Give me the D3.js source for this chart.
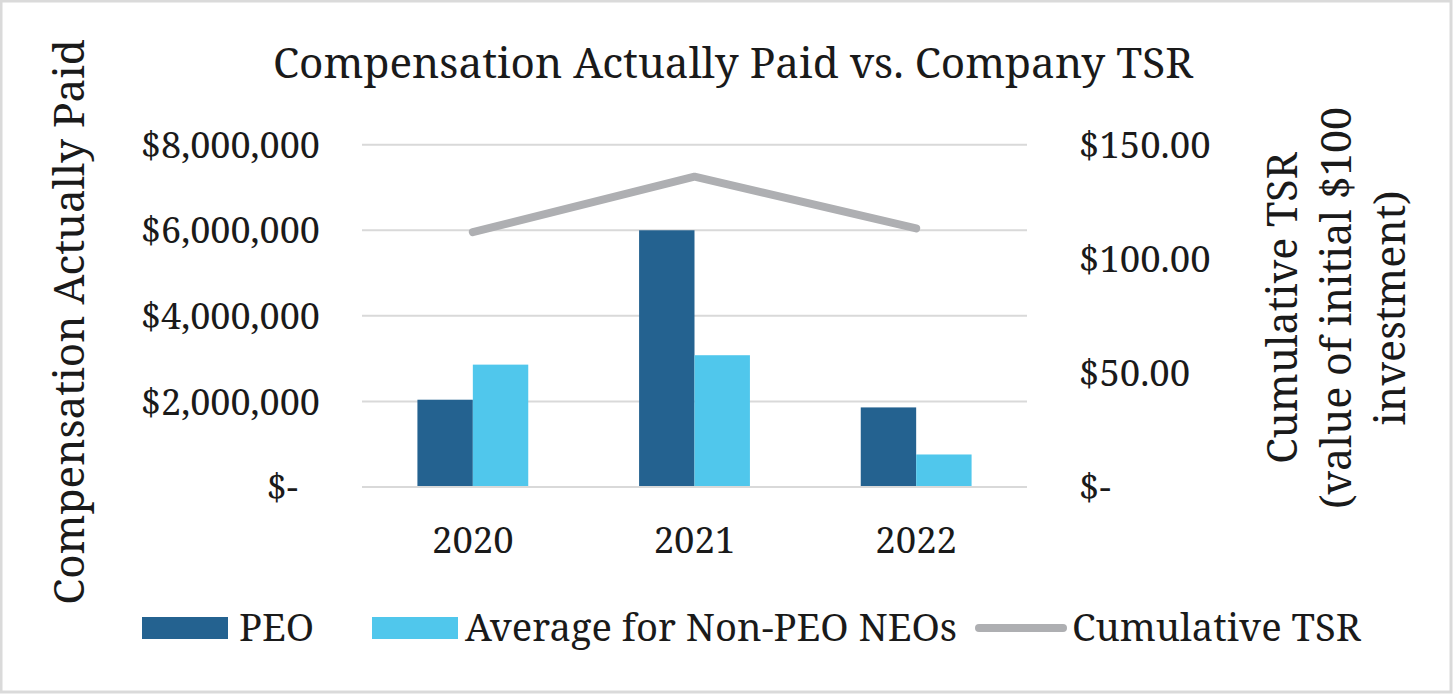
<!DOCTYPE html>
<html>
<head>
<meta charset="utf-8">
<script src="https://cdn.jsdelivr.net/npm/d3@7"></script>
<style>
  body { margin: 0; background: #fff; }
  svg { display: block; }
  text { font-family: "Noto Serif", "Liberation Serif", serif; fill: #1a1a1a; }
</style>
</head>
<body>
<div id="chart"></div>
<script>
// chart data
var years = ["2020", "2021", "2022"];
var peo = [2040000, 6000000, 1860000];
var nonPeo = [2860000, 3080000, 760000];
var tsr = [111.7, 136.0, 113.3];
var leftTicks = [0, 2000000, 4000000, 6000000, 8000000];
var rightTicks = [0, 50, 100, 150];
var seriesNames = ["PEO", "Average for Non-PEO NEOs", "Cumulative TSR"];

var width = 1453, height = 694;
var colPeo = "#246290", colNon = "#50C7EC", colTsr = "#AEAFB2", colGrid = "#d9d9d9";
var font = "'Noto Serif', 'Liberation Serif', serif";

var svg = d3.select("#chart").append("svg")
  .attr("width", width)
  .attr("height", height);

// outer frame
svg.append("rect")
  .attr("x", 1).attr("y", 1)
  .attr("width", width - 3).attr("height", height - 3)
  .attr("fill", "#fff")
  .attr("stroke", "#dadada")
  .attr("stroke-width", 3);

var plot = {left: 362, right: 1027, top: 144.7, bottom: 487};

var x = d3.scaleBand().domain(years).range([plot.left, plot.right]);
var xSub = d3.scaleBand().domain(["peo", "non"]).range([0, x.bandwidth()]).paddingInner(0).paddingOuter(1);
var yL = d3.scaleLinear().domain([0, 8000000]).range([plot.bottom, plot.top]);
var yR = d3.scaleLinear().domain([0, 150]).range([plot.bottom, plot.top]);

// gridlines
svg.append("g")
  .selectAll("line")
  .data(leftTicks)
  .enter().append("line")
  .attr("x1", plot.left).attr("x2", plot.right)
  .attr("y1", function(d){ return yL(d); })
  .attr("y2", function(d){ return yL(d); })
  .attr("stroke", colGrid)
  .attr("stroke-width", 2);

// bars
var groups = svg.append("g").selectAll("g")
  .data(years)
  .enter().append("g")
  .attr("transform", function(d){ return "translate(" + x(d) + ",0)"; });

groups.append("rect")
  .attr("x", xSub("peo"))
  .attr("width", xSub.bandwidth())
  .attr("y", function(d, i){ return yL(peo[i]); })
  .attr("height", function(d, i){ return yL(0) - yL(peo[i]); })
  .attr("fill", colPeo);

groups.append("rect")
  .attr("x", xSub("non"))
  .attr("width", xSub.bandwidth())
  .attr("y", function(d, i){ return yL(nonPeo[i]); })
  .attr("height", function(d, i){ return yL(0) - yL(nonPeo[i]); })
  .attr("fill", colNon);

// baseline on top of bars
svg.append("line")
  .attr("x1", plot.left).attr("x2", plot.right)
  .attr("y1", yL(0)).attr("y2", yL(0))
  .attr("stroke", colGrid).attr("stroke-width", 2);

// TSR line
var line = d3.line()
  .x(function(d, i){ return x(years[i]) + x.bandwidth() / 2; })
  .y(function(d){ return yR(d); });

svg.append("path")
  .datum(tsr)
  .attr("d", line)
  .attr("fill", "none")
  .attr("stroke", colTsr)
  .attr("stroke-width", 8)
  .attr("stroke-linecap", "round")
  .attr("stroke-linejoin", "round");

// left axis
var fmtLeft = function(d){ return d === 0 ? "$-" : "$" + d3.format(",")(d); };
var axL = svg.append("g")
  .attr("transform", "translate(320,0)")
  .call(d3.axisLeft(yL).tickValues(leftTicks).tickFormat(fmtLeft).tickSize(0).tickPadding(0));
axL.select(".domain").remove();
axL.selectAll("text")
  .attr("font-size", 36)
  .attr("dy", "0.35em")
  .style("font-family", font)
  .attr("fill", "#1a1a1a")
  .attr("dx", function(d){ return d === 0 ? -22 : 0; });

// right axis
var fmtRight = function(d){ return d === 0 ? "$-" : "$" + d3.format(".2f")(d); };
var axR = svg.append("g")
  .attr("transform", "translate(1079,0)")
  .call(d3.axisRight(yR).tickValues(rightTicks).tickFormat(fmtRight).tickSize(0).tickPadding(0));
axR.select(".domain").remove();
axR.selectAll("text")
  .attr("font-size", 36.5)
  .attr("dy", "0.35em")
  .style("font-family", font)
  .attr("fill", "#1a1a1a");

// x axis
var axX = svg.append("g")
  .attr("transform", "translate(0," + plot.bottom + ")")
  .call(d3.axisBottom(x).tickSize(0).tickPadding(0));
axX.select(".domain").remove();
axX.selectAll("text")
  .attr("font-size", 36.5)
  .attr("y", 66)
  .attr("dy", 0)
  .style("font-family", font)
  .attr("fill", "#1a1a1a");

// title
svg.append("text")
  .attr("x", 733).attr("y", 78)
  .attr("text-anchor", "middle")
  .attr("font-size", 42.3)
  .text("Compensation Actually Paid vs. Company TSR");

// left axis title
svg.append("text")
  .attr("transform", "translate(84,322) rotate(-90)")
  .attr("text-anchor", "middle")
  .attr("font-size", 42.3)
  .text("Compensation Actually Paid");

// right axis title
var rTitle = ["Cumulative TSR", "(value of initial $100", "investment)"];
svg.append("g").selectAll("text")
  .data(rTitle)
  .enter().append("text")
  .attr("transform", function(d, i){ return "translate(" + (1297 + i * 54) + ",308) rotate(-90)"; })
  .attr("text-anchor", "middle")
  .attr("font-size", 41.2)
  .text(function(d){ return d; });

// legend
var legend = svg.append("g").attr("transform", "translate(0,628)");
var legendItems = [
  {x: 142, textX: 239, color: colPeo, type: "rect"},
  {x: 372, textX: 465, color: colNon, type: "rect"},
  {x: 975, textX: 1072, color: colTsr, type: "line"}
];
legendItems.forEach(function(it, i){
  if (it.type === "rect") {
    legend.append("rect")
      .attr("x", it.x).attr("y", -11)
      .attr("width", 86).attr("height", 22)
      .attr("fill", it.color);
  } else {
    legend.append("line")
      .attr("x1", it.x + 4).attr("x2", it.x + 88)
      .attr("y1", 0).attr("y2", 0)
      .attr("stroke", it.color)
      .attr("stroke-width", 8)
      .attr("stroke-linecap", "round");
  }
  legend.append("text")
    .attr("x", it.textX).attr("y", 13)
    .attr("font-size", 38.2)
    .text(seriesNames[i]);
});
</script>
</body>
</html>
